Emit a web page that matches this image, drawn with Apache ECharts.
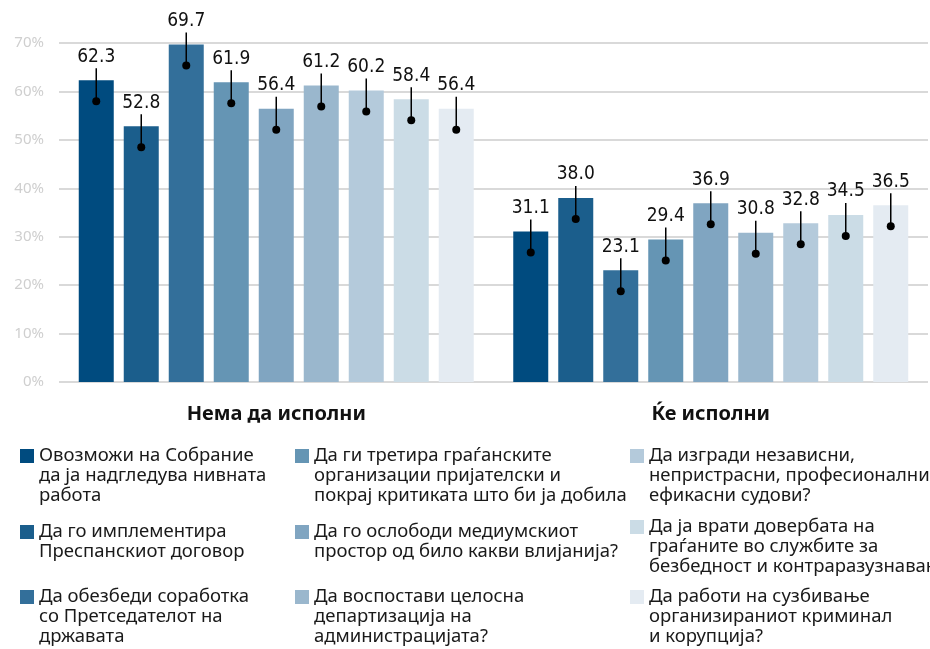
<!DOCTYPE html>
<html>
<head>
<meta charset="utf-8">
<script src="https://cdn.jsdelivr.net/npm/echarts@6/dist/echarts.min.js"></script>
<style>
  html, body { margin: 0; padding: 0; background: #fff; }
  #chart { width: 930px; height: 649px; }
</style>
</head>
<body>
<div id="chart"></div>
<script>
// категории на х-оската
const categories = ['Нема да исполни', 'Ќе исполни'];

// имиња на сериите (легенда)
const seriesNames = [
  'Овозможи на Собрание\nда ја надгледува нивната\nработа',
  'Да го имплементира\nПреспанскиот договор',
  'Да обезбеди соработка\nсо Претседателот на\nдржавата',
  'Да ги третира граѓанските\nорганизации пријателски и\nпокрај критиката што би ја добила',
  'Да го ослободи медиумскиот\nпростор од било какви влијанија?',
  'Да воспостави целосна\nдепартизација на\nадминистрацијата?',
  'Да изгради независни,\nнепристрасни, професионални и\nефикасни судови?',
  'Да ја врати довербата на\nграѓаните во службите за\nбезбедност и контраразузнавање?',
  'Да работи на сузбивање\nорганизираниот криминал\nи корупција?'
];

// вредности по категорија (Нема да исполни, Ќе исполни)
const s1 = [62.3, 31.1];
const s2 = [52.8, 38.0];
const s3 = [69.7, 23.1];
const s4 = [61.9, 29.4];
const s5 = [56.4, 36.9];
const s6 = [61.2, 30.8];
const s7 = [60.2, 32.8];
const s8 = [58.4, 34.5];
const s9 = [56.4, 36.5];
const values = [s1, s2, s3, s4, s5, s6, s7, s8, s9];

const colors = ['#004b7f', '#1b5e8c', '#336f9a', '#6595b4', '#80a5c1',
                '#9ab7cd', '#b4cadb', '#cbdce6', '#e4ebf2'];

const yTicks = [0, 10, 20, 30, 40, 50, 60, 70];

const BAR_W = 35;
const BAR_GAP = 10;
const FONT = '"Noto Sans", Lato, sans-serif';
const NUM_FONT = '"Liberation Sans Narrow", "DejaVu Sans Condensed", Lato, sans-serif';

const chart = echarts.init(document.getElementById('chart'), null, {renderer: 'canvas'});

// барови
const barSeries = values.map((vals, i) => ({
  name: seriesNames[i],
  type: 'bar',
  data: vals,
  barWidth: BAR_W,
  barGap: (BAR_GAP / BAR_W * 100).toFixed(2) + '%',
  itemStyle: {color: colors[i]},
  label: {
    show: true,
    position: 'top',
    distance: 14,
    color: '#111',
    fontFamily: NUM_FONT,
    fontSize: 19,
    formatter: p => p.value.toFixed(1)
  },
  z: 2
}));

// игла (линија + точка) на секој бар
const pinData = [];
values.forEach((vals, i) => vals.forEach((v, c) => pinData.push([c, v, i])));

const pinSeries = {
  type: 'custom',
  data: pinData,
  clip: false,
  z: 5,
  silent: true,
  renderItem: (params, api) => {
    const pt = api.coord([api.value(0), api.value(1)]);
    const x = pt[0] + (api.value(2) - 4) * (BAR_W + BAR_GAP);
    const y = pt[1];
    return {
      type: 'group',
      children: [
        {type: 'line', shape: {x1: x, y1: y - 12, x2: x, y2: y + 21},
         style: {stroke: '#000', lineWidth: 1.5}},
        {type: 'circle', shape: {cx: x, cy: y + 21, r: 4}, style: {fill: '#000'}}
      ]
    };
  }
};

// легенда: 3 колони x 3 реда; празни редови пред текстот за првата
// линија да стои до квадратчето
const LINE_H = 20;
const legendCols = [20, 295, 630];
const legendRows = [[456, 532, 597], [456, 532, 597], [456, 527, 597]];
const legends = seriesNames.map((name, i) => {
  const col = Math.floor(i / 3);
  const row = i % 3;
  const lines = name.split('\n').length;
  return {
    data: [{name: name, icon: 'rect'}],
    left: legendCols[col],
    top: legendRows[col][row] - LINE_H / 2 - (lines - 1) * LINE_H,
    padding: 0,
    itemWidth: 14,
    itemHeight: 14,
    selectedMode: false,
    formatter: n => '\n'.repeat(lines - 1) + n,
    textStyle: {
      fontFamily: FONT,
      fontSize: 18.5,
      lineHeight: LINE_H,
      color: '#1a1a1a'
    }
  };
});

chart.setOption({
  animation: false,
  backgroundColor: '#fff',
  grid: {left: 59, right: 2, top: 43, bottom: 267},
  legend: legends,
  xAxis: {
    type: 'category',
    data: categories,
    axisLine: {show: false},
    axisTick: {show: false},
    axisLabel: {
      margin: 22,
      color: '#111',
      fontFamily: FONT,
      fontSize: 20,
      fontWeight: 'bold'
    }
  },
  yAxis: {
    type: 'value',
    min: yTicks[0],
    max: yTicks[yTicks.length - 1],
    interval: 10,
    axisLine: {show: false},
    axisTick: {show: false},
    splitLine: {lineStyle: {color: '#d9d9d9', width: 2}},
    axisLabel: {
      margin: 15,
      color: '#cfcfcf',
      fontFamily: FONT,
      fontSize: 15,
      formatter: '{value}%'
    }
  },
  series: [...barSeries, pinSeries]
});
</script>
</body>
</html>
